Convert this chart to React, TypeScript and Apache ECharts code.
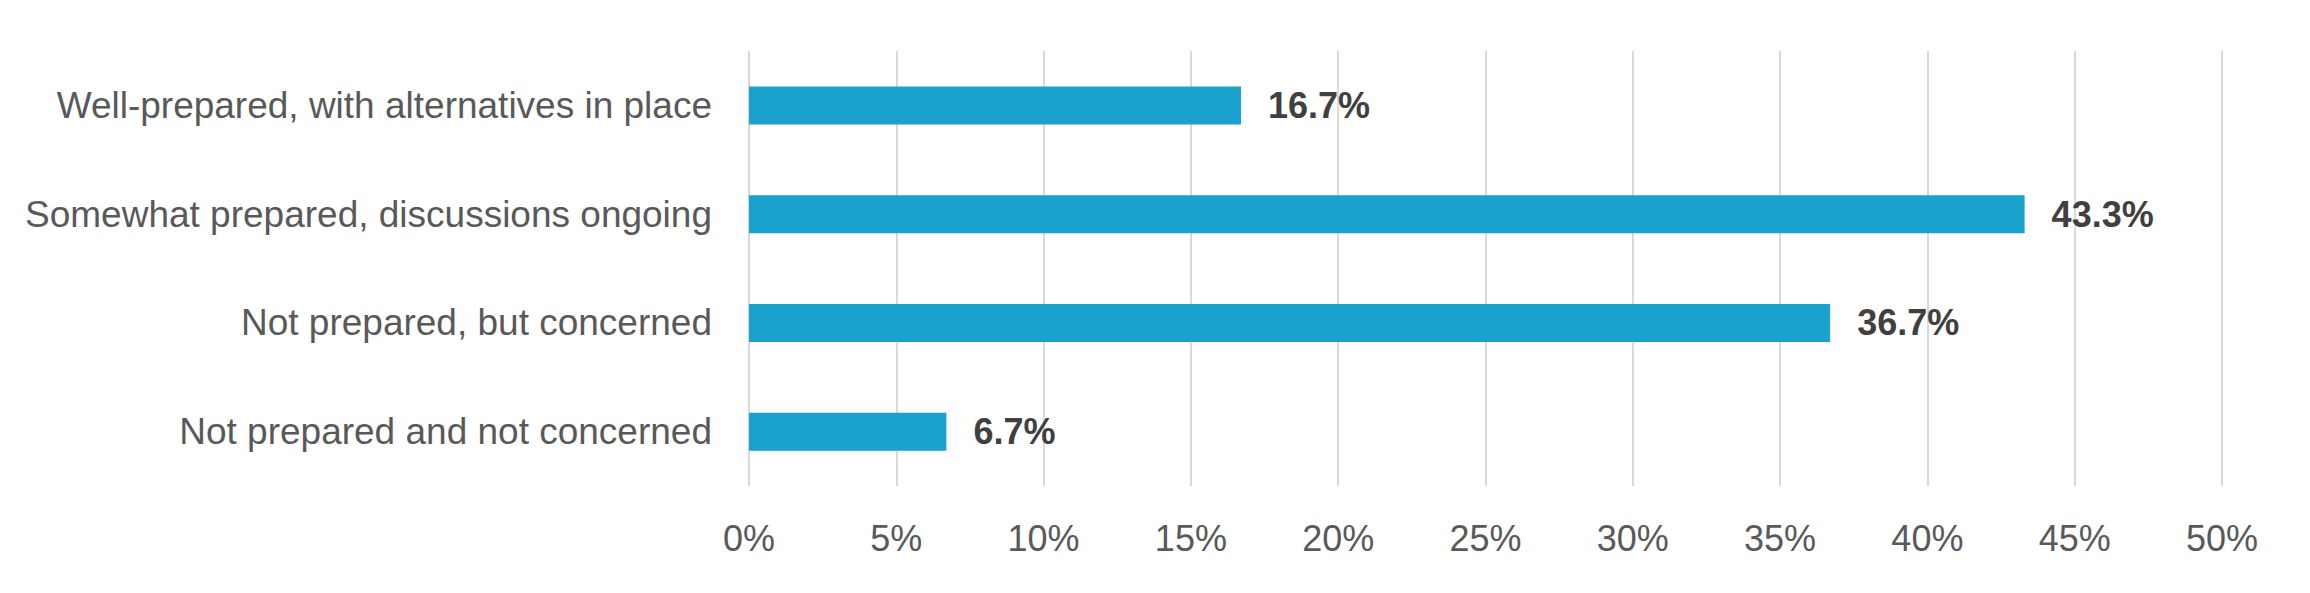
import { useEffect, useRef } from "react";
import * as echarts from "echarts";

const categories = [
  "Well-prepared, with alternatives in place",
  "Somewhat prepared, discussions ongoing",
  "Not prepared, but concerned",
  "Not prepared and not concerned",
];
const shares = [16.7, 43.3, 36.7, 6.7];
const tickValues = [0, 5, 10, 15, 20, 25, 30, 35, 40, 45, 50];

export default function App() {
  const ref = useRef<HTMLDivElement | null>(null);

  useEffect(() => {
    document.body.style.margin = "0";
    if (!ref.current) return;
    const chart = echarts.init(ref.current, undefined, { renderer: "svg" });

    chart.setOption({
      animation: false,
      backgroundColor: "#ffffff",
      grid: { left: 749, right: 88, top: 51, bottom: 107 },
      xAxis: {
        type: "value",
        min: tickValues[0],
        max: tickValues[tickValues.length - 1],
        interval: 5,
        axisLine: { show: false },
        axisTick: { show: false },
        splitLine: { show: true, lineStyle: { color: "#d9d9d9", width: 2 } },
        axisLabel: {
          color: "#595959",
          fontSize: 36,
          fontFamily: "Liberation Sans, Arial, sans-serif",
          margin: 34,
          formatter: (v: number) => `${v}%`,
        },
      },
      yAxis: {
        type: "category",
        data: categories,
        inverse: true,
        axisLine: { show: false },
        axisTick: { show: false },
        axisLabel: {
          color: "#595959",
          fontSize: 37,
          fontFamily: "Liberation Sans, Arial, sans-serif",
          margin: 37,
        },
      },
      series: [
        {
          type: "bar",
          data: shares,
          barWidth: 38,
          itemStyle: { color: "#1ba1ce" },
          label: {
            show: true,
            position: "right",
            distance: 27,
            color: "#404040",
            fontSize: 36,
            fontWeight: "bold",
            fontFamily: "Liberation Sans Narrow, Liberation Sans, Arial, sans-serif",
            formatter: (p: { value: number }) => `${p.value.toFixed(1)}%`,
          },
        },
      ],
    });

    return () => {
      chart.dispose();
    };
  }, []);

  return <div ref={ref} style={{ width: 2310, height: 593 }} />;
}
